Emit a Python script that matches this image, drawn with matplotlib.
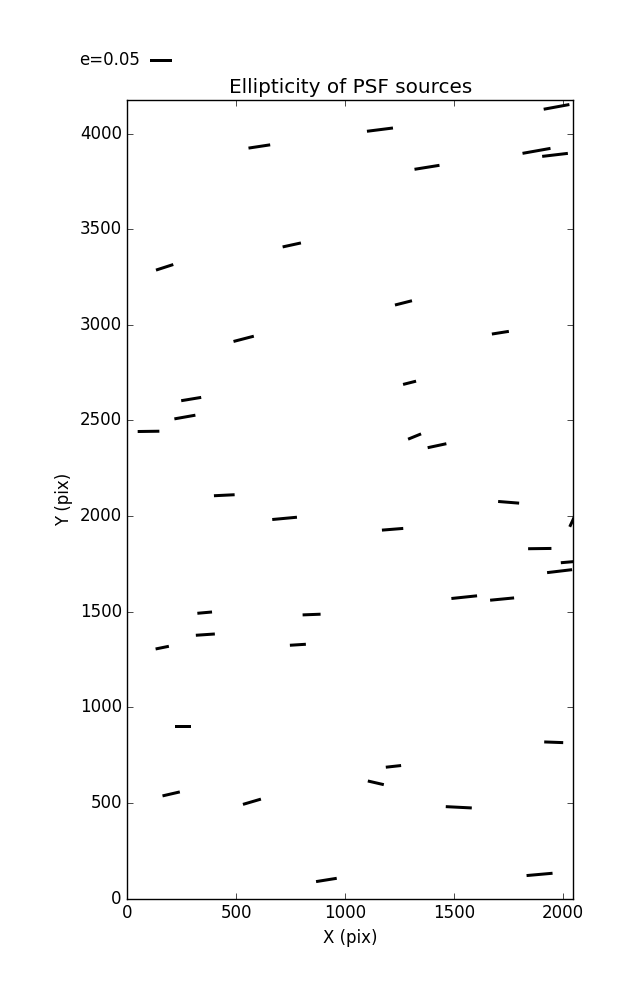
import numpy as np
import matplotlib
matplotlib.use('Agg')
import matplotlib.pyplot as plt

# source positions (pix) and ellipticity / position angle (deg)
x = [606, 755, 171, 534, 1160, 1971, 1879, 1964, 1376, 1268, 1713,
     293, 264, 97, 445, 722, 355, 846, 1296, 1319, 1422, 1751, 2053,
     1218, 1894, 2041, 1985, 1547, 1721, 160, 358, 783, 255, 201, 572,
     914, 1222, 1141, 1522, 1958, 1893]
y = [3933, 3418, 3301, 2927, 4021, 4140, 3910, 3889, 3824, 3115, 2959,
     2612, 2518, 2443, 2109, 1988, 1495, 1485, 2697, 2416, 2368, 2072, 1996,
     1931, 1830, 1761, 1712, 1576, 1566, 1312, 1380, 1327, 897, 547, 506,
     97, 691, 605, 477, 817, 126]
e = [0.0499, 0.0426, 0.0413, 0.0477, 0.0596, 0.0594, 0.0646, 0.0588, 0.0575,
     0.0399, 0.0391, 0.0461, 0.0485, 0.0493, 0.0471, 0.0564, 0.0335, 0.0409,
     0.0305, 0.0319, 0.0435, 0.0479, 0.0500, 0.0486, 0.0530, 0.0500, 0.0572,
     0.0587, 0.0548, 0.0308, 0.0433, 0.0364, 0.0370, 0.0404, 0.0426, 0.0476,
     0.0350, 0.0373, 0.0592, 0.0432, 0.0593]
theta = [8.6, 12.3, 17.9, 14.6, 7.2, 10.4, 10.1, 6.7, 9.1, 14.2, 9.0,
         9.4, 10.0, 0.8, 2.8, 5.3, 5.1, 2.2, 14.2, 22.2, 12.1, -4.6, 65.0,
         4.6, 0.7, 5.0, 6.8, 6.0, 5.5, 11.5, 3.9, 3.6, 0.0, 13.0, 16.4, 9.1,
         6.3, -13.0, -2.9, -2.1, 5.1]

e = np.array(e)
th = np.radians(theta)
u = e * np.cos(th)
v = e * np.sin(th)

plt.style.use('classic')
fig = plt.figure(figsize=(6.37, 10), dpi=100, facecolor='white')
ax = fig.add_axes([0.2, 0.1015, 0.7, 0.7985])

q = ax.quiver(x, y, u, v, pivot='middle', headwidth=0, headlength=0,
              headaxislength=0, units='inches', width=0.03,
              scale_units='inches', scale=0.05 / 0.22, color='k')
ax.quiverkey(q, 0.2354, 0.94, 0.05, 'e=0.05', labelpos='W',
             coordinates='figure')

ax.set_xlim(0, 2048)
ax.set_ylim(0, 4176)
ax.set_xlabel('X (pix)')
ax.set_ylabel('Y (pix)')
ax.set_title('Ellipticity of PSF sources')

fig.savefig('out.png', dpi=100, facecolor='white')
